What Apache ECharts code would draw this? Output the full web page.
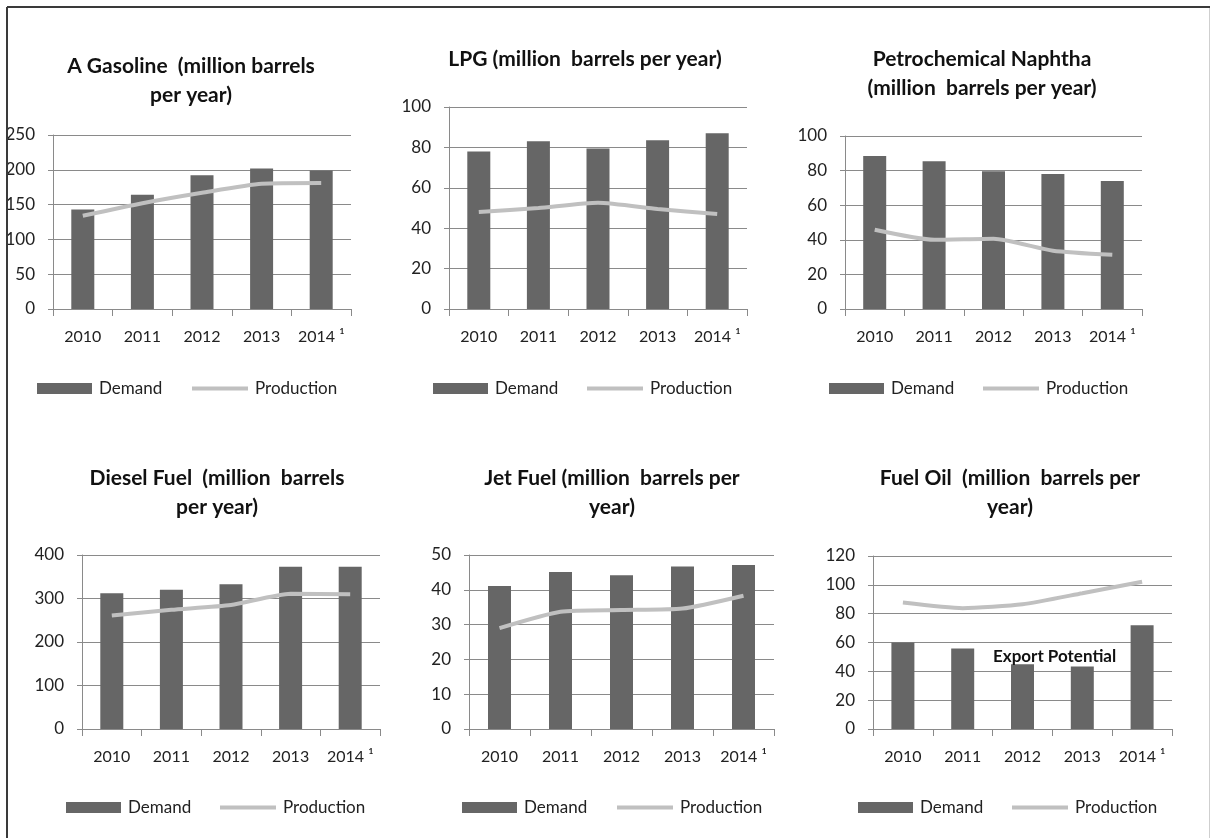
<!DOCTYPE html>
<html>
<head>
<meta charset="utf-8">
<title>Refined products: demand and production</title>
<script src="https://cdn.jsdelivr.net/npm/echarts@6/dist/echarts.min.js"></script>
<style>
  html, body { margin: 0; padding: 0; background: #fff; }
  #chart { width: 1211px; height: 838px; }
</style>
</head>
<body>
<div id="chart"></div>
<script>
// Years shown on every panel
const years = ['2010', '2011', '2012', '2013', '2014 ¹'];

// Million barrels per year, per product
const gasolineDemand = [143, 164, 192, 202, 199];
const gasolineProduction = [134, 152, 167, 180, 181];

const lpgDemand = [78, 83, 79.5, 83.5, 87];
const lpgProduction = [48, 50, 52.6, 49.5, 47];

const naphthaDemand = [88.5, 85.4, 79.6, 78, 74];
const naphthaProduction = [45.8, 40, 40.6, 33.7, 31.3];

const dieselDemand = [312, 320, 333, 373, 373];
const dieselProduction = [261, 274, 285, 311, 310];

const jetDemand = [41.1, 45.1, 44.2, 46.7, 47.1];
const jetProduction = [29, 33.7, 34.2, 34.6, 38.3];

const fuelOilDemand = [60, 55.8, 45, 43.4, 72];
const fuelOilProduction = [87.7, 83.8, 86.5, 94.2, 102.2];

// Panel titles and y-axis ranges
const titles = [
  'A Gasoline  (million barrels\nper year)',
  'LPG (million  barrels per year)',
  'Petrochemical Naphtha\n(million  barrels per year)',
  'Diesel Fuel  (million  barrels\nper year)',
  'Jet Fuel (million  barrels per\nyear)',
  'Fuel Oil  (million  barrels per\nyear)'
];
const yMax = [250, 100, 100, 400, 50, 120];
const yStep = [50, 20, 20, 100, 10, 20];

const demandSets = [gasolineDemand, lpgDemand, naphthaDemand, dieselDemand, jetDemand, fuelOilDemand];
const productionSets = [gasolineProduction, lpgProduction, naphthaProduction, dieselProduction, jetProduction, fuelOilProduction];

const annotationText = 'Export Potential';

// Layout of the six panels
const panels = [
  { left: 53,  width: 298, top: 135, bottom: 309, titleX: 186,  titleY: 47,  demandX: 37,  prodX: 192,  legendY: 387 },
  { left: 449, width: 298, top: 107, bottom: 309, titleX: 580,  titleY: 40,  demandX: 433, prodX: 587,  legendY: 387 },
  { left: 845, width: 297, top: 136, bottom: 309, titleX: 977,  titleY: 40,  demandX: 829, prodX: 983,  legendY: 387 },
  { left: 82,  width: 298, top: 555, bottom: 729, titleX: 212,  titleY: 459, demandX: 66,  prodX: 220,  legendY: 806 },
  { left: 469, width: 305, top: 555, bottom: 729, titleX: 607,  titleY: 459, demandX: 462, prodX: 617,  legendY: 806 },
  { left: 873, width: 299, top: 556, bottom: 729, titleX: 1005, titleY: 459, demandX: 858, prodX: 1012, legendY: 806 }
];

const FONT = 'Lato';
const TEXT = '#222';
const BAR = '#666666';
const LINE = '#c0c0c0';
const GRID = '#8a8a8a';

const chart = echarts.init(document.getElementById('chart'), null, { renderer: 'canvas' });

const title = [], grid = [], xAxis = [], yAxis = [], series = [], legend = [];

const legendText = { fontFamily: FONT, fontSize: 17, color: TEXT, padding: [0, 0, 0, 2] };

panels.forEach((p, i) => {
  title.push({
    text: titles[i],
    left: p.titleX,
    top: p.titleY,
    textAlign: 'center',
    textStyle: { fontFamily: FONT, fontWeight: 'bold', fontSize: 21, color: '#111', lineHeight: 29 }
  });
  grid.push({ left: p.left, width: p.width, top: p.top, height: p.bottom - p.top, containLabel: false });
  xAxis.push({
    type: 'category',
    gridIndex: i,
    data: years,
    boundaryGap: true,
    axisLine: { show: true, lineStyle: { color: GRID, width: 1 } },
    axisTick: { show: true, length: 7, interval: 0, lineStyle: { color: GRID } },
    axisLabel: { fontFamily: FONT, fontSize: 16, color: TEXT, margin: 20, interval: 0, hideOverlap: false },
    splitLine: { show: false }
  });
  yAxis.push({
    type: 'value',
    gridIndex: i,
    min: 0,
    max: yMax[i],
    interval: yStep[i],
    axisLine: { show: true, lineStyle: { color: GRID, width: 1 } },
    axisTick: { show: true, length: 5, lineStyle: { color: GRID } },
    axisLabel: { fontFamily: FONT, fontSize: 17, color: TEXT, margin: 18 },
    splitLine: { show: true, lineStyle: { color: GRID, width: 1 } }
  });
  series.push({
    name: 'Demand',
    type: 'bar',
    xAxisIndex: i,
    yAxisIndex: i,
    data: demandSets[i],
    barWidth: 23,
    itemStyle: { color: BAR },
    silent: true
  });
  series.push({
    name: 'Production',
    type: 'line',
    xAxisIndex: i,
    yAxisIndex: i,
    data: productionSets[i],
    smooth: 0.2,
    symbol: 'none',
    lineStyle: { color: LINE, width: 4 },
    itemStyle: { color: LINE },
    z: 3,
    silent: true
  });
  // One legend per entry so each key sits where it belongs under its panel
  legend.push({
    left: p.demandX,
    top: p.legendY - 7,
    padding: 0,
    itemWidth: 55,
    itemHeight: 11,
    selectedMode: false,
    textStyle: legendText,
    data: [{ name: 'Demand', icon: 'rect' }]
  });
  legend.push({
    left: p.prodX,
    top: p.legendY - 7,
    padding: 0,
    itemWidth: 56,
    itemHeight: 11,
    selectedMode: false,
    textStyle: legendText,
    data: [{ name: 'Production', icon: 'path://M0,0 L56,0 L56,4 L0,4 Z' }]
  });
});

chart.setOption({
  animation: false,
  backgroundColor: '#fff',
  title, grid, xAxis, yAxis, series, legend,
  graphic: [
    // Fuel oil annotation
    {
      type: 'text',
      x: 993, y: 657,
      style: {
        text: annotationText, fontFamily: FONT, fontWeight: 'bold', fontSize: 17,
        fill: '#111', align: 'left', verticalAlign: 'middle'
      },
      z: 10
    },
    // Page frame
    { type: 'rect', shape: { x: 0, y: 0, width: 7, height: 838 }, style: { fill: '#fff' }, z: 20 },
    { type: 'rect', shape: { x: 0, y: 0, width: 1211, height: 6 }, style: { fill: '#fff' }, z: 20 },
    { type: 'line', shape: { x1: 7, y1: 7, x2: 1210, y2: 7 }, style: { stroke: '#3a3a3a', lineWidth: 2 }, z: 21 },
    { type: 'line', shape: { x1: 7, y1: 7, x2: 7, y2: 838 }, style: { stroke: '#3a3a3a', lineWidth: 2 }, z: 21 },
    { type: 'line', shape: { x1: 1209.5, y1: 8, x2: 1209.5, y2: 838 }, style: { stroke: '#cfcfcf', lineWidth: 1 }, z: 21 }
  ]
});
</script>
</body>
</html>
